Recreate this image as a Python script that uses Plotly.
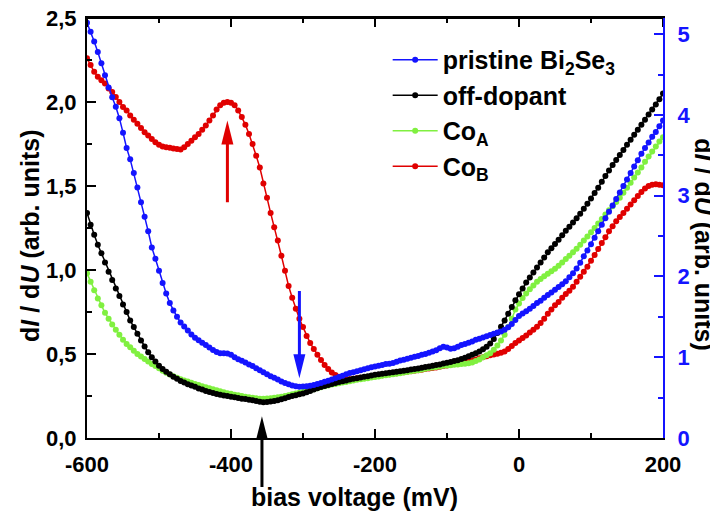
import plotly.graph_objects as go

# ---------------- data ----------------
bias_mV = list(range(-600, 205, 5))

pristine_Bi2Se3 = [  # right axis
    5.14, 5.03, 4.91, 4.78, 4.64, 4.49, 4.34, 4.22, 4.10, 3.96,
    3.78, 3.59, 3.45, 3.28, 3.10, 2.92, 2.74, 2.56, 2.36, 2.22,
    2.07, 1.92, 1.79, 1.67, 1.58, 1.50, 1.43, 1.38, 1.33, 1.28,
    1.24, 1.21, 1.18, 1.15, 1.12, 1.09, 1.065, 1.05, 1.05, 1.045,
    1.03, 1.00, 0.975, 0.955, 0.935, 0.91, 0.89, 0.865, 0.84, 0.815,
    0.79, 0.765, 0.745, 0.725, 0.70, 0.68, 0.665, 0.65, 0.64, 0.635,
    0.637, 0.64, 0.648, 0.657, 0.668, 0.68, 0.695, 0.71, 0.725, 0.74,
    0.755, 0.77, 0.79, 0.805, 0.815, 0.825, 0.84, 0.85, 0.865, 0.875,
    0.885, 0.895, 0.905, 0.915, 0.92, 0.93, 0.945, 0.96, 0.97, 0.98,
    0.995, 1.005, 1.015, 1.03, 1.04, 1.055, 1.07, 1.085, 1.11, 1.13,
    1.12, 1.105, 1.11, 1.13, 1.15, 1.165, 1.18, 1.195, 1.215, 1.23,
    1.245, 1.26, 1.275, 1.29, 1.305, 1.32, 1.34, 1.37, 1.41, 1.46,
    1.51, 1.54, 1.57, 1.60, 1.635, 1.67, 1.70, 1.735, 1.77, 1.80,
    1.835, 1.87, 1.905, 1.94, 1.99, 2.04, 2.10, 2.17, 2.25, 2.32,
    2.40, 2.48, 2.56, 2.64, 2.72, 2.80, 2.88, 2.96, 3.04, 3.12,
    3.20, 3.28, 3.36, 3.44, 3.52, 3.59, 3.66, 3.73, 3.79, 3.86,
    3.93,
]

off_dopant = [
    1.34, 1.27, 1.21, 1.15, 1.10, 1.045, 0.99, 0.94, 0.89, 0.845,
    0.795, 0.75, 0.70, 0.66, 0.62, 0.58, 0.545, 0.51, 0.48, 0.455,
    0.43, 0.41, 0.395, 0.38, 0.365, 0.352, 0.34, 0.33, 0.32, 0.312,
    0.305, 0.295, 0.288, 0.28, 0.274, 0.268, 0.262, 0.258, 0.253, 0.25,
    0.246, 0.242, 0.238, 0.234, 0.232, 0.228, 0.224, 0.22, 0.216, 0.213,
    0.215, 0.218, 0.22, 0.225, 0.23, 0.237, 0.244, 0.25, 0.255, 0.26,
    0.265, 0.272, 0.28, 0.288, 0.296, 0.304, 0.31, 0.316, 0.322, 0.328,
    0.333, 0.338, 0.343, 0.348, 0.352, 0.356, 0.36, 0.364, 0.368, 0.372,
    0.376, 0.38, 0.383, 0.386, 0.389, 0.392, 0.395, 0.398, 0.401, 0.404,
    0.407, 0.41, 0.414, 0.418, 0.422, 0.426, 0.43, 0.434, 0.438, 0.443,
    0.448, 0.453, 0.458, 0.463, 0.47, 0.478, 0.487, 0.496, 0.505, 0.515,
    0.528, 0.543, 0.563, 0.59, 0.625, 0.662, 0.70, 0.74, 0.78, 0.82,
    0.855, 0.89, 0.925, 0.956, 0.985, 1.015, 1.045, 1.075, 1.105, 1.13,
    1.155, 1.18, 1.207, 1.233, 1.258, 1.283, 1.308, 1.335, 1.364, 1.394,
    1.425, 1.458, 1.49, 1.525, 1.56, 1.593, 1.625, 1.655, 1.685, 1.715,
    1.745, 1.775, 1.805, 1.835, 1.865, 1.895, 1.925, 1.955, 1.985, 2.017,
    2.05,
]

Co_A = [
    0.98, 0.93, 0.88, 0.83, 0.79, 0.745, 0.71, 0.675, 0.645, 0.615,
    0.585, 0.56, 0.54, 0.52, 0.50, 0.485, 0.47, 0.455, 0.44, 0.428,
    0.415, 0.40, 0.388, 0.378, 0.368, 0.358, 0.35, 0.343, 0.336, 0.329,
    0.322, 0.315, 0.308, 0.302, 0.296, 0.29, 0.284, 0.278, 0.272, 0.267,
    0.263, 0.258, 0.254, 0.25, 0.246, 0.243, 0.24, 0.237, 0.234, 0.234,
    0.235, 0.237, 0.24, 0.243, 0.246, 0.25, 0.255, 0.26, 0.265, 0.27,
    0.275, 0.28, 0.285, 0.29, 0.296, 0.302, 0.308, 0.313, 0.318, 0.322,
    0.326, 0.33, 0.334, 0.338, 0.342, 0.346, 0.35, 0.353, 0.356, 0.36,
    0.363, 0.366, 0.37, 0.373, 0.376, 0.379, 0.383, 0.386, 0.39, 0.393,
    0.397, 0.40, 0.404, 0.408, 0.412, 0.416, 0.42, 0.423, 0.426, 0.43,
    0.431, 0.433, 0.436, 0.438, 0.44, 0.442, 0.445, 0.45, 0.458, 0.468,
    0.48, 0.493, 0.505, 0.525, 0.55, 0.58, 0.615, 0.66, 0.71, 0.765,
    0.80, 0.833, 0.86, 0.885, 0.908, 0.93, 0.947, 0.963, 0.978, 0.993,
    1.008, 1.025, 1.045, 1.065, 1.085, 1.105, 1.127, 1.15, 1.175, 1.20,
    1.225, 1.25, 1.277, 1.303, 1.33, 1.355, 1.38, 1.405, 1.43, 1.46,
    1.49, 1.52, 1.55, 1.58, 1.61, 1.645, 1.675, 1.705, 1.735, 1.765,
    1.79,
]

Co_B = [
    2.26, 2.22, 2.18, 2.15, 2.13, 2.11, 2.08, 2.06, 2.03, 2.00,
    1.97, 1.95, 1.92, 1.895, 1.87, 1.845, 1.82, 1.80, 1.78, 1.76,
    1.745, 1.735, 1.73, 1.727, 1.723, 1.72, 1.718, 1.73, 1.75, 1.77,
    1.79, 1.81, 1.835, 1.86, 1.89, 1.92, 1.955, 1.98, 1.995, 2.0,
    1.995, 1.98, 1.95, 1.91, 1.865, 1.81, 1.75, 1.68, 1.61, 1.515,
    1.43, 1.34, 1.255, 1.175, 1.085, 0.995, 0.905, 0.835, 0.77, 0.71,
    0.66, 0.607, 0.565, 0.53, 0.495, 0.465, 0.435, 0.41, 0.39, 0.375,
    0.365, 0.355, 0.35, 0.35, 0.352, 0.355, 0.358, 0.36, 0.362, 0.365,
    0.368, 0.37, 0.373, 0.376, 0.379, 0.382, 0.385, 0.388, 0.392, 0.395,
    0.398, 0.40, 0.403, 0.406, 0.41, 0.413, 0.417, 0.42, 0.424, 0.428,
    0.432, 0.436, 0.44, 0.444, 0.448, 0.452, 0.456, 0.462, 0.468, 0.474,
    0.48, 0.486, 0.492, 0.497, 0.502, 0.508, 0.515, 0.53, 0.548, 0.565,
    0.58, 0.595, 0.61, 0.628, 0.645, 0.662, 0.685, 0.71, 0.74, 0.765,
    0.79, 0.81, 0.835, 0.857, 0.877, 0.90, 0.93, 0.96, 0.99, 1.02,
    1.055, 1.09, 1.125, 1.16, 1.195, 1.23, 1.26, 1.29, 1.315, 1.34,
    1.365, 1.39, 1.415, 1.44, 1.465, 1.485, 1.50, 1.508, 1.51, 1.508,
    1.505,
]

x_tick_vals = [-600, -400, -200, 0, 200]
x_tick_text = ["-600", "-400", "-200", "0", "200"]
x_minor_vals = [-500, -300, -100, 100]
y_tick_vals = [0, 0.5, 1.0, 1.5, 2.0, 2.5]
y_tick_text = ["0,0", "0,5", "1,0", "1,5", "2,0", "2,5"]
y_minor_vals = [0.25, 0.75, 1.25, 1.75, 2.25]
y2_tick_vals = [0, 1, 2, 3, 4, 5]
y2_tick_text = ["0", "1", "2", "3", "4", "5"]
y2_minor_vals = [0.5, 1.5, 2.5, 3.5, 4.5]

# arrow markers (bias position, tail value, tip value, axis, colour, direction)
arrows = [
    (-405, 1.395, 1.89, "y", "#e00000", 1),     # red, pointing up (left axis)
    (-305, 1.84, 0.74, "y2", "#1414ff", -1),    # blue, pointing down (right axis)
    (-357, -0.30, 0.13, "y", "#000000", 1),     # black, pointing up (left axis)
]

# ---------------- styling ----------------
FONT = "Liberation Sans"
BLUE = "#1414ff"
BLACK = "#000000"
GREEN = "#80f040"
RED = "#e00000"

fig = go.Figure()

series = [  # draw order: red, green, black, blue
    ("Co<sub>B</sub>", Co_B, RED, "x", "y", 4),
    ("Co<sub>A</sub>", Co_A, GREEN, "x", "y", 3),
    ("off-dopant", off_dopant, BLACK, "x", "y", 2),
    ("pristine Bi<sub>2</sub>Se<sub>3</sub>", pristine_Bi2Se3, BLUE, "x2", "y2", 1),
]
for name, vals, col, xax, yax, rank in series:
    fig.add_trace(go.Scatter(
        x=bias_mV, y=vals, name=name, xaxis=xax, yaxis=yax, mode="lines+markers",
        line=dict(color=col, width=1.5),
        marker=dict(color=col, size=6, line=dict(width=0)),
        legendrank=rank, cliponaxis=True,
    ))

tickfont = dict(family=FONT, size=22, color="black", weight="bold")
x_common = dict(
    range=[-600, 200], tickmode="array", tickvals=x_tick_vals,
    ticks="inside", ticklen=9, tickwidth=2, tickcolor="black",
    showline=True, linewidth=2, linecolor="black",
    showgrid=False, zeroline=False, automargin=False,
    minor=dict(tickvals=x_minor_vals, ticks="inside", ticklen=5, tickwidth=2, tickcolor="black", showgrid=False),
)

# the page body adds an 8 px offset; the figure fills the rest of the window
fig.update_layout(
    width=710, height=512,
    margin=dict(l=79, r=55, t=10, b=82, autoexpand=False),
    plot_bgcolor="white", paper_bgcolor="white",
    font=dict(family=FONT, size=20, color="black", weight="bold"),
    xaxis=dict(
        **x_common, ticktext=x_tick_text, tickfont=tickfont, ticklabelstandoff=6,
        ticklabeloverflow="allow", mirror=False, side="bottom", anchor="y",
    ),
    xaxis2=dict(
        **x_common, showticklabels=False, overlaying="x", side="top", anchor="y2",
    ),
    yaxis=dict(
        range=[0, 2.5], tickmode="array", tickvals=y_tick_vals, ticktext=y_tick_text,
        ticks="inside", ticklen=9, tickwidth=2, tickcolor="black",
        showline=True, linewidth=2, linecolor="black", mirror=False,
        showgrid=False, zeroline=False, tickfont=tickfont, ticklabelstandoff=4,
        automargin=False, ticklabeloverflow="allow", anchor="x",
        minor=dict(tickvals=y_minor_vals, ticks="inside", ticklen=5, tickwidth=2, tickcolor="black", showgrid=False),
    ),
    yaxis2=dict(
        range=[0, 5.2], overlaying="y", side="right", anchor="x2",
        tickmode="array", tickvals=y2_tick_vals, ticktext=y2_tick_text,
        ticks="inside", ticklen=9, tickwidth=2, tickcolor=BLUE,
        showline=True, linewidth=2, linecolor=BLUE,
        showgrid=False, zeroline=False, automargin=False, ticklabeloverflow="allow",
        tickfont=dict(family=FONT, size=22, color=BLUE, weight="bold"), ticklabelstandoff=8,
        minor=dict(tickvals=y2_minor_vals, ticks="inside", ticklen=5, tickwidth=2, tickcolor=BLUE, showgrid=False),
    ),
    legend=dict(
        x=0.522, y=0.955, xanchor="left", yanchor="top",
        bgcolor="rgba(0,0,0,0)", borderwidth=0, itemwidth=45,
        font=dict(family=FONT, size=25, color="black", weight="bold"),
        tracegroupgap=0,
    ),
    showlegend=True,
)

title_font = dict(family=FONT, size=25, color="black", weight="bold")
ytitle = "d<i>I</i> / d<i>U</i> (arb. units)"
annotations = [
    dict(text="bias voltage (mV)", xref="paper", yref="paper", x=0.465, y=-0.14,
         xanchor="center", yanchor="middle", showarrow=False, font=title_font),
    dict(text=ytitle, xref="paper", yref="paper", x=-0.100, y=0.482, textangle=-90,
         xanchor="center", yanchor="middle", showarrow=False, font=title_font),
    dict(text=ytitle, xref="paper", yref="paper", x=1.072, y=0.46, textangle=90,
         xanchor="center", yanchor="middle", showarrow=False, font=title_font),
]

HEAD_LEN = 24   # px
HEAD_HALF = 6   # px
plot_h = 512 - 10 - 82
px_per_unit = {"y": plot_h / 2.5, "y2": plot_h / 5.2}
shapes = []
for xb, tail, tip, yax, col, direction in arrows:
    base = tip - direction * (HEAD_LEN - 4) / px_per_unit[yax]
    annotations.append(dict(
        x=xb, y=base, ax=xb, ay=tail, xref="x", yref=yax, axref="x", ayref=yax,
        text="", showarrow=True, arrowhead=0, arrowwidth=3, arrowcolor=col,
    ))
    shapes.append(dict(
        type="path", xref="x", yref=yax, xsizemode="pixel", ysizemode="pixel",
        xanchor=xb, yanchor=tip,
        path=f"M 0 0 L {-HEAD_HALF} {-direction * HEAD_LEN} L {HEAD_HALF} {-direction * HEAD_LEN} Z",
        fillcolor=col, line=dict(width=0), layer="above",
    ))

# top frame line with inward ticks (mirrors the bottom axis)
shapes.append(dict(type="line", xref="paper", yref="paper", x0=0, x1=1, y0=1, y1=1,
                   line=dict(color="black", width=2), layer="above"))
for tv, tl in [(v, 9) for v in x_tick_vals] + [(v, 5) for v in x_minor_vals]:
    shapes.append(dict(type="line", xref="x", yref="paper", ysizemode="pixel", yanchor=1,
                       x0=tv, x1=tv, y0=0, y1=-tl, line=dict(color="black", width=2), layer="above"))

fig.update_layout(annotations=annotations, shapes=shapes)

fig.write_html("out.html")
